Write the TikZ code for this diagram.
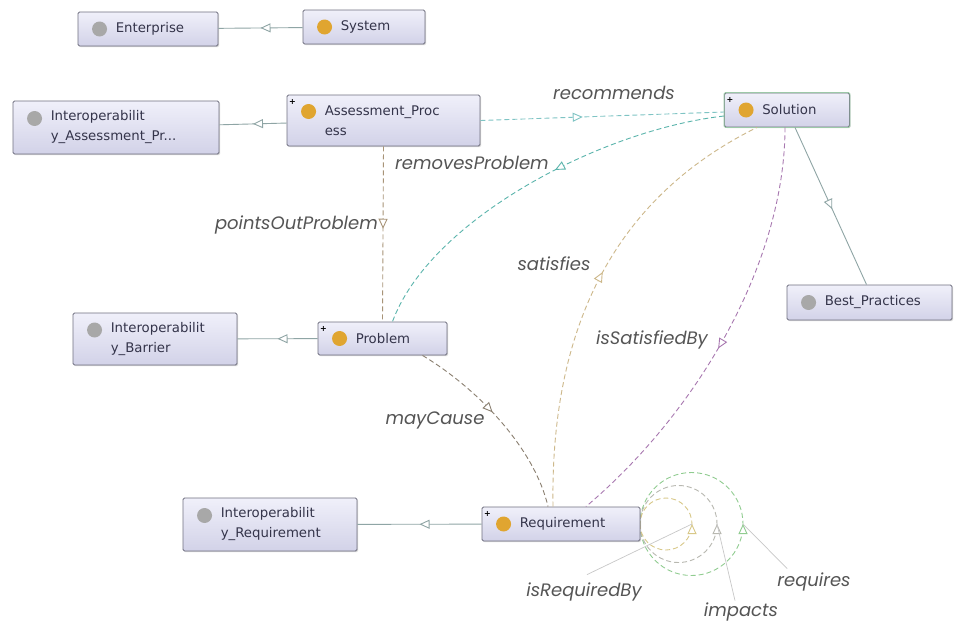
\documentclass[tikz,border=0pt]{standalone}
\usepackage{fontspec}
\setmainfont{DejaVu Sans}
\newfontfamily\lblfont{Poppins}
\usetikzlibrary{arrows.meta,decorations.markings,shadows,calc}
\definecolor{boxtop}{HTML}{F0F0FA}
\definecolor{boxbot}{HTML}{D2D2E8}
\definecolor{boxborder}{HTML}{707080}
\definecolor{solborder}{HTML}{9CC8A8}
\definecolor{nodetext}{HTML}{34344A}
\definecolor{labeltext}{HTML}{555555}
\definecolor{icongray}{HTML}{A8A8A8}
\definecolor{iconorange}{HTML}{E0A530}
\definecolor{subcol}{HTML}{8FA5A5}
\definecolor{reccol}{HTML}{7FC4C4}
\definecolor{remcol}{HTML}{5AB4AC}
\definecolor{pointcol}{HTML}{A89478}
\definecolor{satcol}{HTML}{CDB88A}
\definecolor{isatcol}{HTML}{A878B0}
\definecolor{maycol}{HTML}{8A7F70}
\definecolor{reqcol}{HTML}{90CC90}
\definecolor{impcol}{HTML}{B8B8B0}
\definecolor{irbcol}{HTML}{D8C888}
\definecolor{leadcol}{HTML}{C8C8C8}
\tikzset{
 clsnode/.style={draw=boxborder, line width=0.9pt, rounded corners=1.5pt, top color=boxtop, bottom color=boxbot,
   drop shadow={shadow xshift=1.2pt, shadow yshift=-1.2pt, opacity=0.3}, inner sep=0pt},
 iconnode/.style={circle, minimum size=15pt, inner sep=0pt},
 clstext/.style={anchor=west, align=left, font=\fontsize{13.3}{20}\selectfont, text=nodetext, inner sep=0pt},
 plusnode/.style={font=\fontsize{8}{8}\selectfont\bfseries, inner sep=0pt, text=black},
 elabel/.style={font=\lblfont\itshape\fontsize{18}{20}\selectfont, text=labeltext, inner sep=0pt},
 mid/.style={postaction={decorate}, decoration={markings, mark=at position #1 with {\arrow{Triangle[fill=white,length=10pt,width=9pt]}}}},
 midn/.style 2 args={postaction={decorate}, decoration={markings, mark=at position #1 with {\arrow{Triangle[fill=white,length=10pt,width=9pt]}\coordinate (#2) at (0,0);}}},
 subc/.style={draw=subcol, line width=0.9pt},
 objp/.style={dash pattern=on 5pt off 3pt, line width=0.9pt},
 leader/.style={draw=leadcol, line width=0.7pt},
}
\newcommand\clsbox[8]{%
 \node[clsnode, minimum width=#4pt, minimum height=#5pt] (#1) at (#2,#3) {};
 \node[iconnode, fill=#6] (#1-i) at ($(#1.west)+(22,#8)$) {};
 \node[clstext] (#1-t) at ($(#1.west)+(38,0)$) {#7};
}
\begin{document}
\begin{tikzpicture}[x=1pt,y=-1pt]
\useasboundingbox[fill=white] (0,0) rectangle (955,621);

% self loops on Requirement (drawn first)
\coordinate (reqE) at (640,524);
\draw[objp, draw=reqcol, midn={0.5}{rqa}] (reqE) arc[start angle=180, end angle=-180, radius=51.5];
\draw[objp, draw=impcol, midn={0.5}{ima}] (reqE) arc[start angle=180, end angle=-180, radius=38.5];
\draw[objp, draw=irbcol, midn={0.5}{irba}] (reqE) arc[start angle=180, end angle=-180, radius=26];

% class boxes
\clsbox{ent}{148}{29}{140}{34}{icongray}{Enterprise}{0}
\clsbox{sys}{364}{27}{122}{34}{iconorange}{System}{0}
\clsbox{iap}{116}{127.5}{206}{53}{icongray}{Interoperabilit\\y\_Assessment\_Pr...}{-9}
\clsbox{ap}{383.5}{120.5}{193}{51}{iconorange}{Assessment\_Proc\\ess}{-9}
\clsbox{sol}{787}{110}{125}{34}{iconorange}{Solution}{0}
\clsbox{ib}{155}{339}{164}{52}{icongray}{Interoperabilit\\y\_Barrier}{-9}
\clsbox{prob}{382.5}{338.5}{129}{33}{iconorange}{Problem}{0}
\clsbox{bp}{869.5}{302.5}{165}{35}{icongray}{Best\_Practices}{0}
\clsbox{ir}{270}{524.5}{174}{53}{icongray}{Interoperabilit\\y\_Requirement}{-9}
\clsbox{req}{561}{524}{158}{34}{iconorange}{Requirement}{0}
\draw[solborder, line width=0.9pt, rounded corners=1.5pt] (sol.north west) rectangle (sol.south east);

\node[plusnode] (ap-p) at ($(ap.north west)+(6,7)$) {+};
\node[plusnode] (sol-p) at ($(sol.north west)+(6,7)$) {+};
\node[plusnode] (prob-p) at ($(prob.north west)+(6,7)$) {+};
\node[plusnode] (req-p) at ($(req.north west)+(6,7)$) {+};

% subclass edges
\draw[subc, mid=0.5] (sys) -- (ent);
\draw[subc, mid=0.5] (ap) -- (iap);
\draw[subc, mid=0.5] (prob) -- (ib);
\draw[subc, mid=0.5] (req) -- (ir);
\draw[subc, mid=0.52] ([xshift=8pt]sol.south) -- ([xshift=-3pt]bp.north);

% object properties
\draw[objp, draw=reccol, mid=0.42] (ap.east) -- ([yshift=-2pt]sol.west);
\draw[objp, draw=pointcol, mid=0.47] (ap.south) -- (prob.north);
\draw[objp, draw=remcol, mid=0.44] ([yshift=-6pt]sol.west) .. controls (600,130) and (430,220) .. ([xshift=10pt]prob.north);
\draw[objp, draw=satcol, mid=0.53] ([xshift=-8pt]req.north) .. controls (550,320) and (620,195) .. ([xshift=-30pt]sol.south);
\draw[objp, draw=isatcol, mid=0.53] ([xshift=-2pt]sol.south) .. controls (785,260) and (700,410) .. ([xshift=25pt]req.north);
\draw[objp, draw=maycol, mid=0.45] ([xshift=40pt]prob.south) .. controls (480,390) and (535,450) .. ([xshift=-13pt]req.north);

% edge labels
\node[elabel] (l-rec) at (614,93) {recommends};
\node[elabel] (l-rem) at (472,163) {removesProblem};
\node[elabel, anchor=east] (l-pop) at (378,225) {pointsOutProblem};
\node[elabel] (l-sat) at (554,264) {satisfies};
\node[elabel] (l-isat) at (652,340) {isSatisfiedBy};
\node[elabel] (l-may) at (435,420) {mayCause};
\node[elabel] (l-irb) at (584,592) {isRequiredBy};
\node[elabel] (l-imp) at (741,612) {impacts};
\node[elabel] (l-req) at (814,582) {requires};

% leaders
\draw[leader] (irba) -- ([xshift=3pt,yshift=8pt]l-irb.north);
\draw[leader] (ima) -- ([xshift=-6pt,yshift=2pt]l-imp.north);
\draw[leader] (rqa) -- ([xshift=10pt,yshift=4pt]l-req.north west);
\end{tikzpicture}
\end{document}
